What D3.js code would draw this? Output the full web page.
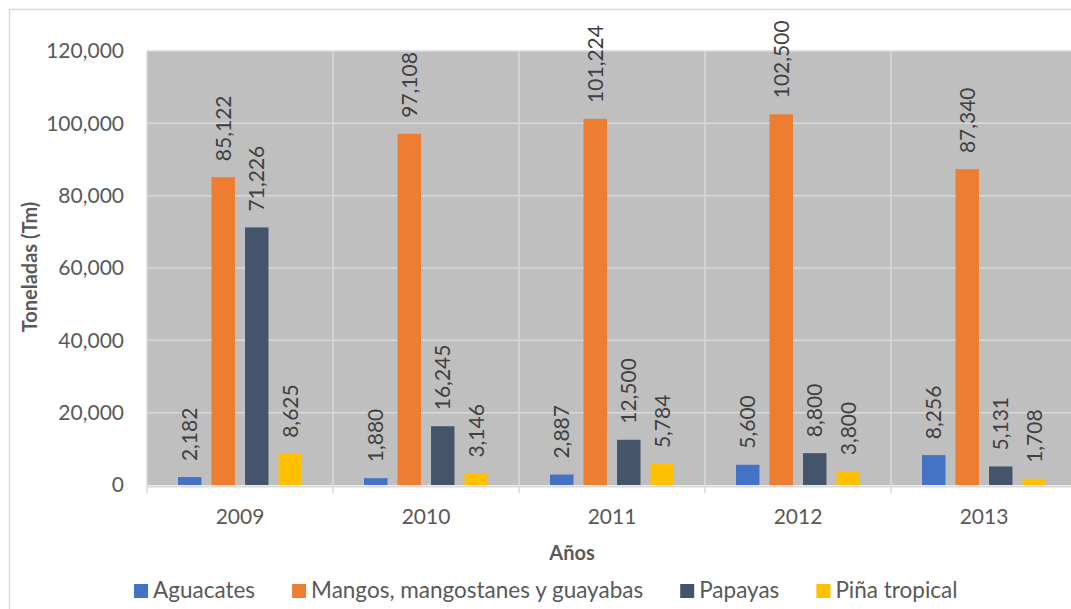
<!DOCTYPE html>
<html>
<head>
<meta charset="utf-8">
<script src="https://cdn.jsdelivr.net/npm/d3@7"></script>
<style>
  body { margin: 0; background: #fff; }
  text { font-family: Lato, "Open Sans", sans-serif; }
</style>
</head>
<body>
<div id="chart"></div>
<script>
// data
var years = ["2009", "2010", "2011", "2012", "2013"];
var series = ["Aguacates", "Mangos, mangostanes y guayabas", "Papayas", "Piña tropical"];
var aguacates = [2182, 1880, 2887, 5600, 8256];
var mangos = [85122, 97108, 101224, 102500, 87340];
var papayas = [71226, 16245, 12500, 8800, 5131];
var pina = [8625, 3146, 5784, 3800, 1708];
var yTicks = [0, 20000, 40000, 60000, 80000, 100000, 120000];
var colors = ["#4472C4", "#ED7D31", "#44546A", "#FFC000"];

var values = [aguacates, mangos, papayas, pina];
var rows = [];
years.forEach(function(y, i) {
    series.forEach(function(s, j) {
        rows.push({ year: y, serie: s, idx: j, value: values[j][i] });
    });
});

var W = 1071, H = 609;
var svg = d3.select("#chart").append("svg")
    .attr("width", W)
    .attr("height", H);

// outer chart border (right / bottom go past the picture)
svg.append("rect")
    .attr("x", 9.5).attr("y", 9.5)
    .attr("width", 1100).attr("height", 640)
    .attr("fill", "#fff")
    .attr("stroke", "#D9D9D9")
    .attr("stroke-width", 1.5);

var plot = { left: 147, top: 51, right: 1077, bottom: 485 };

var x0 = d3.scaleBand()
    .domain(years)
    .range([plot.left, plot.right]);

var x1 = d3.scaleBand()
    .domain(series)
    .range([0, x0.bandwidth()])
    .paddingInner(0.3)
    .paddingOuter(0.925);

var y = d3.scaleLinear()
    .domain([0, 120000])
    .range([plot.bottom, plot.top]);

// gray plot background
svg.append("rect")
    .attr("x", plot.left).attr("y", plot.top)
    .attr("width", plot.right - plot.left)
    .attr("height", plot.bottom - plot.top)
    .attr("fill", "#BFBFBF");

// horizontal gridlines
svg.append("g")
    .selectAll("line")
    .data(yTicks.slice(1))
    .enter().append("line")
    .attr("x1", plot.left).attr("x2", plot.right)
    .attr("y1", function(d) { return y(d); })
    .attr("y2", function(d) { return y(d); })
    .attr("stroke", "#D9D9D9")
    .attr("stroke-width", 1.5);

// vertical gridlines between categories
svg.append("g")
    .selectAll("line")
    .data(years)
    .enter().append("line")
    .attr("x1", function(d) { return x0(d); })
    .attr("x2", function(d) { return x0(d); })
    .attr("y1", plot.top).attr("y2", plot.bottom)
    .attr("stroke", "#D9D9D9")
    .attr("stroke-width", 1.5);

// x axis (line + ticks)
var xAxis = svg.append("g")
    .attr("transform", "translate(0," + (plot.bottom + 1) + ")")
    .call(d3.axisBottom(x0).tickSize(0).tickPadding(23));
xAxis.select(".domain").attr("stroke", "#D9D9D9").attr("stroke-width", 2);
xAxis.selectAll("text")
    .attr("fill", "#595959")
    .style("font-size", "21px");

svg.append("g")
    .selectAll("line")
    .data(years.concat(["end"]))
    .enter().append("line")
    .attr("x1", function(d) { return d == "end" ? plot.right : x0(d); })
    .attr("x2", function(d) { return d == "end" ? plot.right : x0(d); })
    .attr("y1", plot.bottom).attr("y2", plot.bottom + 8)
    .attr("stroke", "#D9D9D9")
    .attr("stroke-width", 1.5);

// y axis labels
var yAxis = svg.append("g")
    .attr("transform", "translate(" + (plot.left - 23) + ",0)")
    .call(d3.axisLeft(y).tickValues(yTicks).tickSize(0).tickPadding(0)
        .tickFormat(d3.format(",")));
yAxis.select(".domain").remove();
yAxis.selectAll("text")
    .attr("fill", "#595959")
    .style("font-size", "21px");

// bars
svg.append("g")
    .selectAll("rect")
    .data(rows)
    .enter().append("rect")
    .attr("x", function(d) { return x0(d.year) + x1(d.serie); })
    .attr("y", function(d) { return y(d.value); })
    .attr("width", x1.bandwidth())
    .attr("height", function(d) { return plot.bottom - y(d.value); })
    .attr("fill", function(d) { return colors[d.idx]; });

// data labels, rotated
svg.append("g")
    .selectAll("text")
    .data(rows)
    .enter().append("text")
    .attr("transform", function(d) {
        var cx = x0(d.year) + x1(d.serie) + x1.bandwidth() / 2;
        return "translate(" + cx + "," + (y(d.value) - 16) + ") rotate(-90)";
    })
    .attr("dy", "0.36em")
    .attr("text-anchor", "start")
    .attr("fill", "#404040")
    .style("font-size", "21px")
    .text(function(d) { return d3.format(",")(d.value); });

// axis titles
svg.append("text")
    .attr("transform", "translate(30,267) rotate(-90)")
    .attr("text-anchor", "middle")
    .attr("dy", "0.35em")
    .attr("fill", "#595959")
    .style("font-size", "20px")
    .style("font-weight", "bold")
    .text("Toneladas (Tm)");

svg.append("text")
    .attr("x", 572).attr("y", 560)
    .attr("text-anchor", "middle")
    .attr("fill", "#595959")
    .style("font-size", "20px")
    .style("font-weight", "bold")
    .text("Años");

// legend
var legend = svg.append("g");
var lx = 134;
series.forEach(function(s, j) {
    legend.append("rect")
        .attr("x", lx).attr("y", 584)
        .attr("width", 14).attr("height", 14)
        .attr("fill", colors[j]);
    var t = legend.append("text")
        .attr("x", lx + 19).attr("y", 598)
        .attr("fill", "#595959")
        .style("font-size", "22.5px")
        .text(s);
    lx = lx + 19 + t.node().getComputedTextLength() + 37;
});
</script>
</body>
</html>
